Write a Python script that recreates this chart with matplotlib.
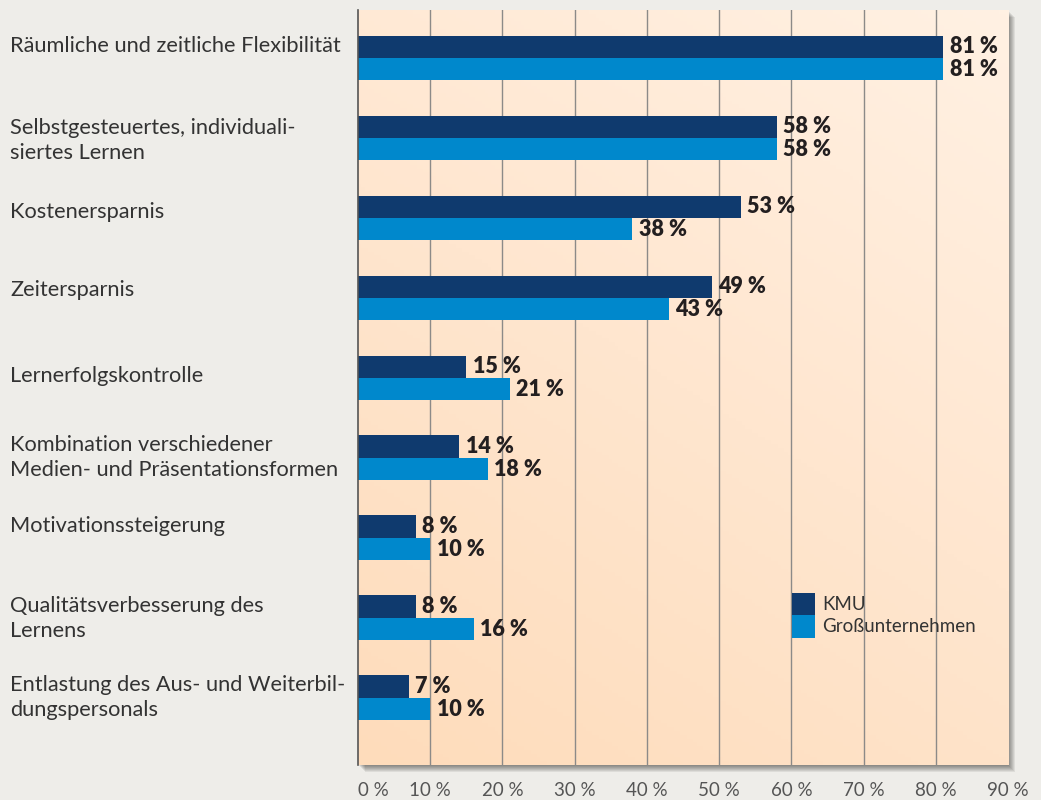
import numpy as np
import matplotlib.pyplot as plt
from matplotlib.patches import Rectangle
from matplotlib.colors import LinearSegmentedColormap
from matplotlib.transforms import blended_transform_factory

categories = [
    "Räumliche und zeitliche Flexibilität",
    "Selbstgesteuertes, individuali-\nsiertes Lernen",
    "Kostenersparnis",
    "Zeitersparnis",
    "Lernerfolgskontrolle",
    "Kombination verschiedener\nMedien- und Präsentationsformen",
    "Motivationssteigerung",
    "Qualitätsverbesserung des\nLernens",
    "Entlastung des Aus- und Weiterbil-\ndungspersonals",
]
kmu = [81, 58, 53, 49, 15, 14, 8, 8, 7]
gross = [81, 58, 38, 43, 21, 18, 10, 16, 10]
series_names = ["KMU", "Großunternehmen"]
ticks = list(range(0, 100, 10))

# layout
label_dy = [-0.15, -0.125, -0.075, -0.1, -0.025, -0.16, -0.15, -0.15, -0.16]
c_kmu = "#0f3a6e"
c_gross = "#0088cc"
bg = "#eeede9"
W, H = 1041, 800
FONT = "Lato"

fig = plt.figure(figsize=(W / 100, H / 100), dpi=100, facecolor=bg)
x0, x1, y0, y1 = 358, 1008, 10, 765
ax = fig.add_axes([x0 / W, 1 - y1 / H, (x1 - x0) / W, (y1 - y0) / H])
ax.set_xlim(0, 90)
ax.set_ylim(8.84, -0.6)

# drop shadow
for k in range(1, 8):
    fig.patches.append(Rectangle(((x0 + k) / W, 1 - (y1 + k) / H), (x1 - x0) / W, (y1 - y0) / H,
                                 transform=fig.transFigure, facecolor="#000000",
                                 alpha=0.07, edgecolor="none", zorder=-5))

# gradient background
gx, gy = np.meshgrid(np.linspace(0, 1, 200), np.linspace(0, 1, 200))
t = 0.65 * gy + 0.35 * gx
cmap = LinearSegmentedColormap.from_list("bgc", ["#fedcbb", "#ffe6cf", "#fff1e3"])
ax.imshow(t, cmap=cmap, extent=[0, 1, 0, 1], origin="lower", transform=ax.transAxes,
          aspect="auto", zorder=0, vmin=0, vmax=1)

for xt in ticks[1:-1]:
    ax.axvline(xt, color="#8c8a88", lw=1, zorder=1)

idx = np.arange(len(categories))
bh = 0.28
ax.barh(idx - bh / 2, kmu, height=bh, color=c_kmu, zorder=2)
ax.barh(idx + bh / 2, gross, height=bh, color=c_gross, zorder=2)

lab_tr = blended_transform_factory(fig.transFigure, ax.transData)
for i in idx:
    ax.text(kmu[i] + 0.9, i - bh / 2, f"{kmu[i]} %", va="center", ha="left",
            fontsize=15.5, fontweight="heavy", color="#231f20", family=FONT, zorder=3)
    ax.text(gross[i] + 0.9, i + bh / 2, f"{gross[i]} %", va="center", ha="left",
            fontsize=15.5, fontweight="heavy", color="#231f20", family=FONT, zorder=3)
    for j, line in enumerate(categories[i].split("\n")):
        ax.text(10 / W, i + label_dy[i] + j * 0.3125, line, transform=lab_tr, clip_on=False,
                va="center", ha="left", fontsize=15.7, color="#333333", family=FONT)

# legend
lx, lw = 60.1, 3.2
ax.add_patch(Rectangle((lx, 6.69), lw, 0.28, facecolor=c_kmu, edgecolor="none", zorder=3))
ax.add_patch(Rectangle((lx, 6.97), lw, 0.28, facecolor=c_gross, edgecolor="none", zorder=3))
ax.text(64.3, 6.83, series_names[0], va="center", ha="left", fontsize=13.5, color="#333333", family=FONT, zorder=3)
ax.text(64.3, 7.11, series_names[1], va="center", ha="left", fontsize=13.5, color="#333333", family=FONT, zorder=3)

ax.set_xticks(ticks)
ax.set_xticklabels([f"{v} %" for v in ticks], fontsize=13.5, color="#555555", family=FONT)
ax.get_xticklabels()[0].set_horizontalalignment("left")
ax.tick_params(axis="x", length=0, pad=12)
ax.set_yticks([])
for s in ["top", "right", "bottom"]:
    ax.spines[s].set_visible(False)
ax.spines["left"].set_color("#555555")
ax.spines["left"].set_linewidth(1.2)

fig.savefig("out.png", dpi=100, facecolor=bg)
